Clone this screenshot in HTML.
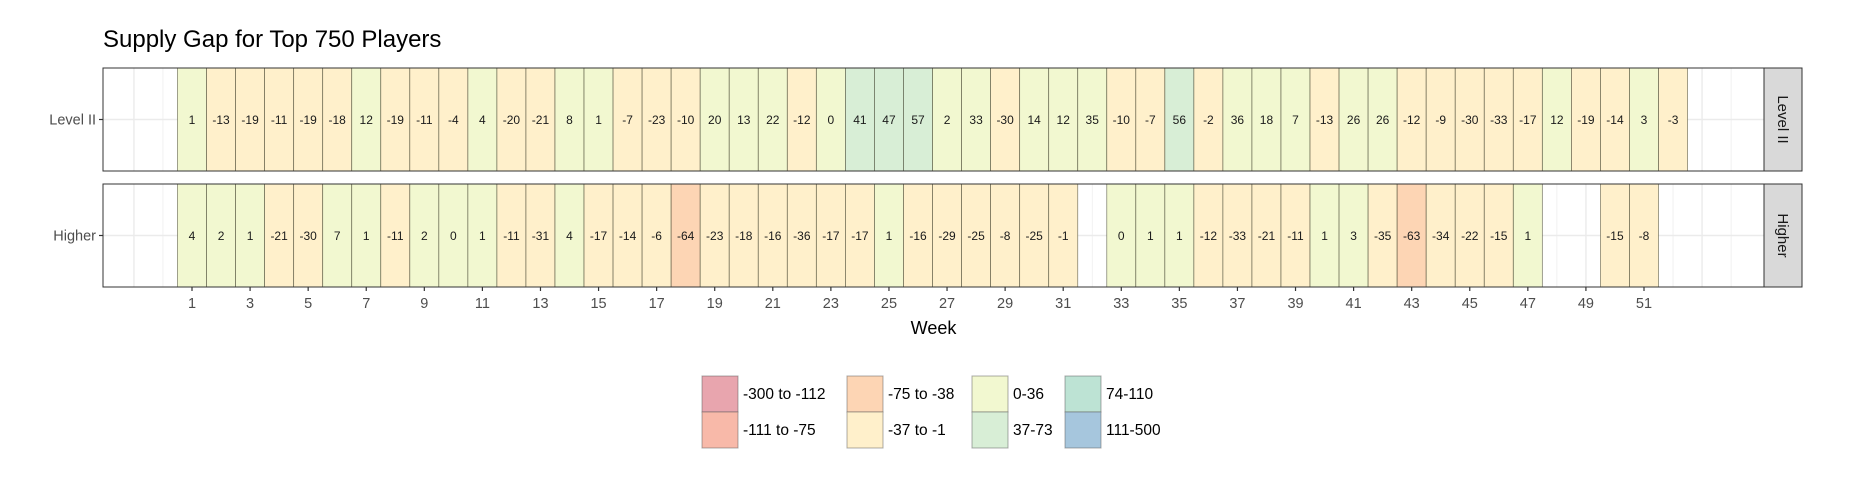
<!DOCTYPE html>
<html><head><meta charset="utf-8"><style>
html,body{margin:0;padding:0;background:#fff;}
svg{display:block;font-family:"Liberation Sans",sans-serif;}
</style></head><body>
<svg id="chart" width="1854" height="484" viewBox="0 0 1854 484" xmlns="http://www.w3.org/2000/svg">
<text x="103" y="47" font-size="24" fill="#000">Supply Gap for Top 750 Players</text>
<g id="plot"></g>
</svg>
<script>
const levelIIWeeks = Array.from({length:52},(_,i)=>i+1);
const levelIIValues = [1,-13,-19,-11,-19,-18,12,-19,-11,-4,4,-20,-21,8,1,-7,-23,-10,20,13,22,-12,0,41,47,57,2,33,-30,14,12,35,-10,-7,56,-2,36,18,7,-13,26,26,-12,-9,-30,-33,-17,12,-19,-14,3,-3];
const higherWeeks = [1,2,3,4,5,6,7,8,9,10,11,12,13,14,15,16,17,18,19,20,21,22,23,24,25,26,27,28,29,30,31,33,34,35,36,37,38,39,40,41,42,43,44,45,46,47,50,51];
const higherValues = [4,2,1,-21,-30,7,1,-11,2,0,1,-11,-31,4,-17,-14,-6,-64,-23,-18,-16,-36,-17,-17,1,-16,-29,-25,-8,-25,-1,0,1,1,-12,-33,-21,-11,1,3,-35,-63,-34,-22,-15,1,-15,-8];
const xTicks = [1,3,5,7,9,11,13,15,17,19,21,23,25,27,29,31,33,35,37,39,41,43,45,47,49,51];
const legendLabels = ["-300 to -112","-111 to -75","-75 to -38","-37 to -1","0-36","37-73","74-110","111-500"];
const legendColors = ["#e8a5ae","#f8b9a9","#fdd5b4","#fff0cb","#f2f8d0","#d8eed6","#bde3d4","#a6c6dd"];

const NS="http://www.w3.org/2000/svg";
const g=document.getElementById('plot');
const X0=192, DX=29.04, PL=103, PR=1764;
const x=w=>X0+(w-1)*DX;
function mk(t,a,p){const e=document.createElementNS(NS,t);for(const k in a)e.setAttribute(k,a[k]);(p||g).appendChild(e);return e;}
function colorFor(v){
  if(v<=-112)return legendColors[0];
  if(v<=-76)return legendColors[1];
  if(v<=-38)return legendColors[2];
  if(v<=-1)return legendColors[3];
  if(v<=36)return legendColors[4];
  if(v<=73)return legendColors[5];
  if(v<=110)return legendColors[6];
  return legendColors[7];
}
const panels=[{name:"Level II",top:68,bot:171,weeks:levelIIWeeks,vals:levelIIValues,key:"level-ii"},
              {name:"Higher",top:184,bot:287,weeks:higherWeeks,vals:higherValues,key:"higher"}];
panels.forEach(p=>{
  const h=p.bot-p.top, cy=(p.top+p.bot)/2;
  const pg=mk('g',{});
  
  
  mk('rect',{x:PL,y:p.top,width:PR-PL,height:h,fill:'#fff'},pg);
  for(let w=-1;w<=54;w++){
    const xx=x(w); if(xx<=PL||xx>=PR)continue;
    const l=mk('line',{x1:xx,x2:xx,y1:p.top,y2:p.bot,stroke:'#ebebeb','stroke-width':(w%2?1.4:0.7)},pg);
    
    
  }
  mk('line',{x1:PL,x2:PR,y1:cy,y2:cy,stroke:'#ebebeb','stroke-width':1.4},pg);
  p.weeks.forEach((w,i)=>{
    const v=p.vals[i];
    const r=mk('rect',{x:x(w)-DX/2,y:p.top,width:DX,height:h,fill:colorFor(v),stroke:'rgba(60,60,40,0.6)','stroke-width':0.8},pg);
    
    
    const t=mk('text',{x:x(w),y:cy+4.5,'font-size':12,'text-anchor':'middle',fill:'#1a1a1a'},pg);
    t.textContent=v;
    
    
  });
  mk('rect',{x:PL,y:p.top,width:PR-PL,height:h,fill:'none',stroke:'#333','stroke-width':1},pg);
  const s=mk('rect',{x:PR,y:p.top,width:38,height:h,fill:'#d9d9d9',stroke:'#333','stroke-width':1},pg);
  
  
  const st=mk('text',{x:PR+19,y:cy,'font-size':15,'text-anchor':'middle',fill:'#1a1a1a',transform:`rotate(90 ${PR+19} ${cy})`,dy:5},pg);
  st.textContent=p.name;
  
  
  mk('line',{x1:PL-4,x2:PL,y1:cy,y2:cy,stroke:'#333','stroke-width':1.2},pg);
  const yl=mk('text',{x:PL-7,y:cy+5,'font-size':14.5,'text-anchor':'end',fill:'#4d4d4d'},pg);
  yl.textContent=p.name;
  
  
});
xTicks.forEach(w=>{
  mk('line',{x1:x(w),x2:x(w),y1:287,y2:291,stroke:'#333','stroke-width':1.2});
  const t=mk('text',{x:x(w),y:308,'font-size':14.5,'text-anchor':'middle',fill:'#4d4d4d'});
  t.textContent=w;
  
  
});
const xt=mk('text',{x:(PL+PR)/2,y:334,'font-size':18,'text-anchor':'middle',fill:'#000'});
xt.textContent='Week';


const colX=[702,847,972,1065];
legendLabels.forEach((lab,i)=>{
  const c=Math.floor(i/2), r=i%2;
  const kx=colX[c], ky=376+r*36;
  const k=mk('rect',{x:kx,y:ky,width:36,height:36,fill:legendColors[i],stroke:'rgba(90,90,90,0.5)','stroke-width':1});
  
  
  const t=mk('text',{x:kx+41,y:ky+23,'font-size':15.5,fill:'#000'});
  t.textContent=lab;
  
  
});
</script>
</body></html>
